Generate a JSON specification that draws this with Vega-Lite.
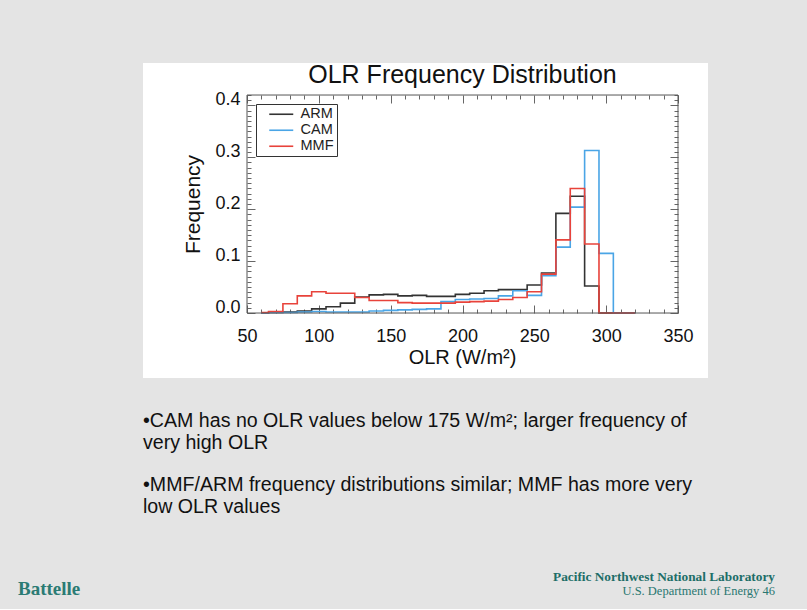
{
  "$schema": "https://vega.github.io/schema/vega-lite/v6.json",
  "background": "#e4e4e4",
  "padding": {"left": 18, "top": 63, "right": 32, "bottom": 10},
  "spacing": 33,
  "config": {"font": "Liberation Sans", "view": {"stroke": null}},
  "title": {"text": "Battelle", "orient": "bottom", "anchor": "start", "dx": -125, "offset": -18, "font": "Liberation Serif", "fontSize": 19, "fontWeight": "bold", "color": "#2b7b74"},
  "vconcat": [
    {
      "width": 565,
      "height": 315,
      "view": {"fill": "white", "stroke": null},
      "title": {"text": "OLR Frequency Distribution", "anchor": "middle", "dx": 37, "offset": -25, "fontSize": 25, "fontWeight": "normal", "color": "#111", "font": "Liberation Sans"},
      "resolve": {"axis": {"x": "independent", "y": "independent"}},
      "layer": [
        {
          "data": {"values": [
            {"olr":60,"model":"ARM","freq":0},{"olr":70,"model":"ARM","freq":0.001},{"olr":80,"model":"ARM","freq":0.002},{"olr":90,"model":"ARM","freq":0.004},{"olr":100,"model":"ARM","freq":0.008},{"olr":110,"model":"ARM","freq":0.012},{"olr":120,"model":"ARM","freq":0.019},{"olr":130,"model":"ARM","freq":0.031},{"olr":140,"model":"ARM","freq":0.035},{"olr":150,"model":"ARM","freq":0.036},{"olr":160,"model":"ARM","freq":0.033},{"olr":170,"model":"ARM","freq":0.034},{"olr":180,"model":"ARM","freq":0.032},{"olr":190,"model":"ARM","freq":0.032},{"olr":200,"model":"ARM","freq":0.036},{"olr":210,"model":"ARM","freq":0.038},{"olr":220,"model":"ARM","freq":0.043},{"olr":230,"model":"ARM","freq":0.045},{"olr":240,"model":"ARM","freq":0.045},{"olr":250,"model":"ARM","freq":0.054},{"olr":260,"model":"ARM","freq":0.077},{"olr":270,"model":"ARM","freq":0.192},{"olr":280,"model":"ARM","freq":0.225},{"olr":290,"model":"ARM","freq":0.052},{"olr":300,"model":"ARM","freq":0},{"olr":310,"model":"ARM","freq":0},{"olr":320,"model":"ARM","freq":0},
            {"olr":60,"model":"CAM","freq":0},{"olr":70,"model":"CAM","freq":0.001},{"olr":80,"model":"CAM","freq":0.001},{"olr":90,"model":"CAM","freq":0.002},{"olr":100,"model":"CAM","freq":0.003},{"olr":110,"model":"CAM","freq":0.002},{"olr":120,"model":"CAM","freq":0.002},{"olr":130,"model":"CAM","freq":0.002},{"olr":140,"model":"CAM","freq":0.004},{"olr":150,"model":"CAM","freq":0.005},{"olr":160,"model":"CAM","freq":0.006},{"olr":170,"model":"CAM","freq":0.007},{"olr":180,"model":"CAM","freq":0.008},{"olr":190,"model":"CAM","freq":0.022},{"olr":200,"model":"CAM","freq":0.026},{"olr":210,"model":"CAM","freq":0.027},{"olr":220,"model":"CAM","freq":0.028},{"olr":230,"model":"CAM","freq":0.033},{"olr":240,"model":"CAM","freq":0.043},{"olr":250,"model":"CAM","freq":0.034},{"olr":260,"model":"CAM","freq":0.072},{"olr":270,"model":"CAM","freq":0.127},{"olr":280,"model":"CAM","freq":0.204},{"olr":290,"model":"CAM","freq":0.313},{"olr":300,"model":"CAM","freq":0.115},{"olr":310,"model":"CAM","freq":0},{"olr":320,"model":"CAM","freq":0},
            {"olr":60,"model":"MMF","freq":0.001},{"olr":70,"model":"MMF","freq":0.003},{"olr":80,"model":"MMF","freq":0.018},{"olr":90,"model":"MMF","freq":0.033},{"olr":100,"model":"MMF","freq":0.041},{"olr":110,"model":"MMF","freq":0.038},{"olr":120,"model":"MMF","freq":0.038},{"olr":130,"model":"MMF","freq":0.030},{"olr":140,"model":"MMF","freq":0.024},{"olr":150,"model":"MMF","freq":0.024},{"olr":160,"model":"MMF","freq":0.020},{"olr":170,"model":"MMF","freq":0.019},{"olr":180,"model":"MMF","freq":0.019},{"olr":190,"model":"MMF","freq":0.019},{"olr":200,"model":"MMF","freq":0.021},{"olr":210,"model":"MMF","freq":0.022},{"olr":220,"model":"MMF","freq":0.023},{"olr":230,"model":"MMF","freq":0.026},{"olr":240,"model":"MMF","freq":0.030},{"olr":250,"model":"MMF","freq":0.041},{"olr":260,"model":"MMF","freq":0.075},{"olr":270,"model":"MMF","freq":0.141},{"olr":280,"model":"MMF","freq":0.240},{"olr":290,"model":"MMF","freq":0.133},{"olr":300,"model":"MMF","freq":0},{"olr":310,"model":"MMF","freq":0},{"olr":320,"model":"MMF","freq":0}
          ]},
          "mark": {"type": "line", "interpolate": "step", "strokeWidth": 1.6},
          "encoding": {
            "x": {
              "field": "olr", "type": "quantitative",
              "scale": {"domain": [-22.39, 370.88], "nice": false, "zero": false},
              "axis": {
                "orient": "bottom", "offset": -65,
                "values": [50,60,70,80,90,100,110,120,130,140,150,160,170,180,190,200,210,220,230,240,250,260,270,280,290,300,310,320,330,340,350],
                "domain": false, "grid": false, "tickColor": "#666", "tickWidth": 1,
                "tickSize": {"condition": {"test": "datum.value % 50 == 0", "value": -8}, "value": -4},
                "labelExpr": "datum.value % 50 == 0 ? datum.label : ''",
                "labelFontSize": 18, "labelColor": "#111", "labelPadding": 22, "labelFlush": false, "labelOverlap": false,
                "title": "OLR (W/m²)", "titleFontSize": 20, "titleFontWeight": "normal", "titleColor": "#111",
                "titleX": 319, "titleY": 44, "titleBaseline": "middle"
              }
            },
            "y": {
              "field": "freq", "type": "quantitative",
              "scale": {"domain": [-0.1252, 0.4817], "nice": false, "zero": false},
              "axis": {
                "orient": "left", "offset": -104,
                "values": [0,0.01,0.02,0.03,0.04,0.05,0.06,0.07,0.08,0.09,0.1,0.11,0.12,0.13,0.14,0.15,0.16,0.17,0.18,0.19,0.2,0.21,0.22,0.23,0.24,0.25,0.26,0.27,0.28,0.29,0.3,0.31,0.32,0.33,0.34,0.35,0.36,0.37,0.38,0.39,0.4,0.41,0.42],
                "domain": false, "grid": false, "tickColor": "#666", "tickWidth": 1,
                "tickSize": {"condition": {"test": "round(datum.value*100) % 10 == 0", "value": -8}, "value": -4},
                "labelExpr": "round(datum.value*100) % 10 == 0 ? format(datum.value, '.1f') : ''",
                "labelFontSize": 18, "labelColor": "#111", "labelPadding": 15, "labelOffset": -6, "labelOverlap": false, "labelFlush": false,
                "title": "Frequency", "titleFontSize": 21, "titleFontWeight": "normal", "titleColor": "#111",
                "titleX": -54, "titleY": 141, "titleBaseline": "middle"
              }
            },
            "color": {
              "field": "model", "type": "nominal",
              "scale": {"domain": ["ARM", "CAM", "MMF"], "range": ["#333333", "#4aa5e6", "#e8433b"]},
              "legend": {
                "orient": "none", "legendX": 113, "legendY": 41, "title": null,
                "symbolType": "M-3,0H3", "symbolSize": 64, "symbolStrokeWidth": 1.6, "symbolOffset": 15,
                "labelOffset": 12, "labelFontSize": 14.5, "labelColor": "#222",
                "strokeColor": "#333", "fillColor": "white", "padding": 3, "rowPadding": 1
              }
            }
          }
        },
        {
          "data": {"values": [{}]},
          "mark": {"type": "rect", "filled": false, "stroke": "#555", "strokeWidth": 1},
          "encoding": {
            "x": {
              "datum": 50, "type": "quantitative",
              "scale": {"domain": [-22.39, 370.88], "nice": false, "zero": false},
              "axis": {
                "orient": "top", "offset": -32,
                "values": [50,60,70,80,90,100,110,120,130,140,150,160,170,180,190,200,210,220,230,240,250,260,270,280,290,300,310,320,330,340,350],
                "domain": false, "grid": false, "labels": false, "title": null, "tickColor": "#666", "tickWidth": 1,
                "tickSize": {"condition": {"test": "datum.value % 50 == 0", "value": -8}, "value": -4}
              }
            },
            "x2": {"datum": 350},
            "y": {
              "datum": 0, "type": "quantitative",
              "scale": {"domain": [-0.1252, 0.4817], "nice": false, "zero": false},
              "axis": {
                "orient": "right", "offset": -30,
                "values": [0,0.01,0.02,0.03,0.04,0.05,0.06,0.07,0.08,0.09,0.1,0.11,0.12,0.13,0.14,0.15,0.16,0.17,0.18,0.19,0.2,0.21,0.22,0.23,0.24,0.25,0.26,0.27,0.28,0.29,0.3,0.31,0.32,0.33,0.34,0.35,0.36,0.37,0.38,0.39,0.4,0.41,0.42],
                "domain": false, "grid": false, "labels": false, "title": null, "tickColor": "#666", "tickWidth": 1,
                "tickSize": {"condition": {"test": "round(datum.value*100) % 10 == 0", "value": -8}, "value": -4}
              }
            },
            "y2": {"datum": 0.42}
          }
        }
      ]
    },
    {
      "width": 565,
      "height": 64,
      "view": {"stroke": null},
      "data": {"values": [
        {"item": "a", "text": ["•CAM has no OLR values below 175 W/m²; larger frequency of", "very high OLR"]},
        {"item": "b", "text": ["•MMF/ARM frequency distributions similar; MMF has more very", "low OLR values"]}
      ]},
      "mark": {"type": "text", "align": "left", "baseline": "top", "fontSize": 19.6, "lineHeight": 22, "color": "#111", "font": "Liberation Sans"},
      "encoding": {
        "x": {"datum": 0, "type": "quantitative", "scale": {"domain": [0, 1]}, "axis": null},
        "y": {"field": "item", "type": "ordinal", "scale": {"type": "point", "padding": 0}, "axis": null},
        "text": {"field": "text"}
      },
      "title": {"text": "Pacific Northwest National Laboratory", "subtitle": "U.S. Department of Energy  46", "orient": "bottom", "anchor": "end", "dx": 67, "offset": 53, "font": "Liberation Serif", "fontSize": 13.3, "fontWeight": "bold", "color": "#1d6e68", "subtitleFont": "Liberation Serif", "subtitleFontSize": 12.5, "subtitleColor": "#2a7771", "subtitlePadding": 2.5}
    }
  ]
}
